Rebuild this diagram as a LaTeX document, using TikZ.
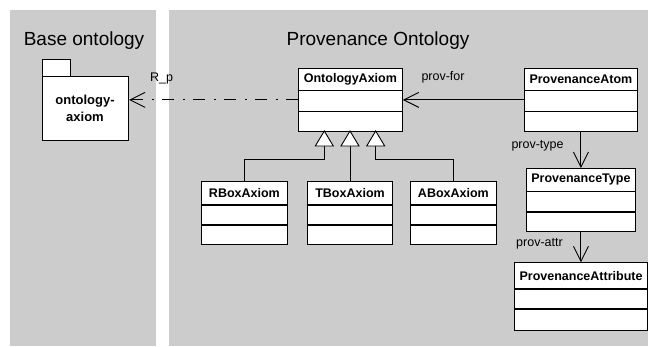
\documentclass[tikz,border=0pt]{standalone}
\usepackage{fontspec}
\setmainfont{Liberation Sans}
\usetikzlibrary{arrows.meta}
\definecolor{panelgray}{RGB}{204,204,204}
\tikzset{
  panel/.style={fill=panelgray, draw=none},
  classbox/.style={draw=black, fill=white, line width=1.1pt, inner sep=0pt, anchor=north west},
  classtitle/.style={font=\fontsize{12.5}{15}\selectfont\bfseries, inner sep=0pt},
  divider/.style={draw=black, line width=1.1pt},
  conn/.style={draw=black, line width=0.9pt},
  openarrow/.style={-{Straight Barb[length=15pt,width=15pt,line width=0.9pt]}},
  lbl/.style={font=\fontsize{12.5}{15}\selectfont, inner sep=0pt, anchor=base west},
  ptitle/.style={font=\fontsize{19}{22}\selectfont, inner sep=0pt, anchor=base},
  inhtri/.style={draw=black, fill=white, line width=0.9pt, line join=miter},
}
\newcommand{\umlclass}[8]{% name, x1, y1, width, height, d1, d2, title
  \node[classbox, minimum width=#4pt, minimum height=#5pt] (#1) at (#2,#3) {};
  \draw[divider] ($(#1.north west)+(0,#6)$) -- ++(#4,0);
  \draw[divider] ($(#1.north west)+(0,#7)$) -- ++(#4,0);
  \node[classtitle] (#1-t) at ($(#1.north)+(0,#6/2)$) {#8};
}
\usetikzlibrary{calc}
\begin{document}
\begin{tikzpicture}[x=1pt,y=-1pt]
\useasboundingbox (0,0) rectangle (648,346);
% panels
\path[panel] (10,10) rectangle (156,346);
\path[panel] (169,10) rectangle (648,346);
\node[ptitle] (tbase) at (84,45.7) {Base ontology};
\node[ptitle] (tprov) at (378,45.7) {Provenance Ontology};
% package
\node[classbox, minimum width=28.6pt, minimum height=17pt] (pkgtab) at (41.7,59) {};
\node[classbox, minimum width=86.3pt, minimum height=64pt] (pkg) at (41.7,76) {};
\node[align=center, font=\fontsize{13}{17}\selectfont\bfseries, inner sep=0pt] (pkgt) at (85,108) {ontology-\\axiom};
% classes
\umlclass{oa}{298}{67.7}{103.7}{63.3}{23}{43.6}{OntologyAxiom}
\umlclass{pa}{524}{67.7}{112.7}{63.3}{23}{43.6}{ProvenanceAtom}
\umlclass{pt}{525.7}{168}{109.3}{63.3}{23.3}{44}{ProvenanceType}
\umlclass{pat}{514.3}{262.3}{132.4}{67.4}{26.7}{46.7}{ProvenanceAttribute}
\umlclass{rb}{201}{181}{85.7}{63.3}{24}{44}{RBoxAxiom}
\umlclass{tb}{306.7}{181}{85.6}{63.3}{24}{44}{TBoxAxiom}
\umlclass{ab}{410}{181}{85.7}{63.3}{24}{44}{ABoxAxiom}
% R_p dependency
\draw[conn, openarrow, dash pattern=on 12pt off 8.5pt on 2pt off 8.5pt] (oa.west) -- (oa.west -| pkg.east);
\node[lbl] (lrp) at (150,81.5) {R\_p};
% prov-for
\draw[conn, openarrow] (pa.west) -- (oa.east);
\node[lbl] (lpf) at (421.3,80.5) {prov-for};
% prov-type
\draw[conn, openarrow] (pa.south) -- (pa.south |- pt.north);
\node[lbl] (lpt) at (511.3,148.5) {prov-type};
% prov-attr
\draw[conn, openarrow] (pt.south) -- (pt.south |- pat.north);
\node[lbl] (lpa) at (516,246.5) {prov-attr};
% inheritance
\coordinate (t1) at (324.3,146);
\coordinate (t2) at (350,146);
\coordinate (t3) at (375.7,146);
\draw[conn] (rb.north) |- (324.3,159) -- (t1);
\draw[conn] (tb.north -| t2) -- (t2);
\draw[conn] (ab.north) |- (375.7,159) -- (t3);
\foreach \c in {t1,t2,t3}{
  \draw[inhtri] ($(\c)+(-9,0)$) -- ($(\c)+(9,0)$) -- ($(\c)+(0,-15)$) -- cycle;
}
\end{tikzpicture}
\end{document}
